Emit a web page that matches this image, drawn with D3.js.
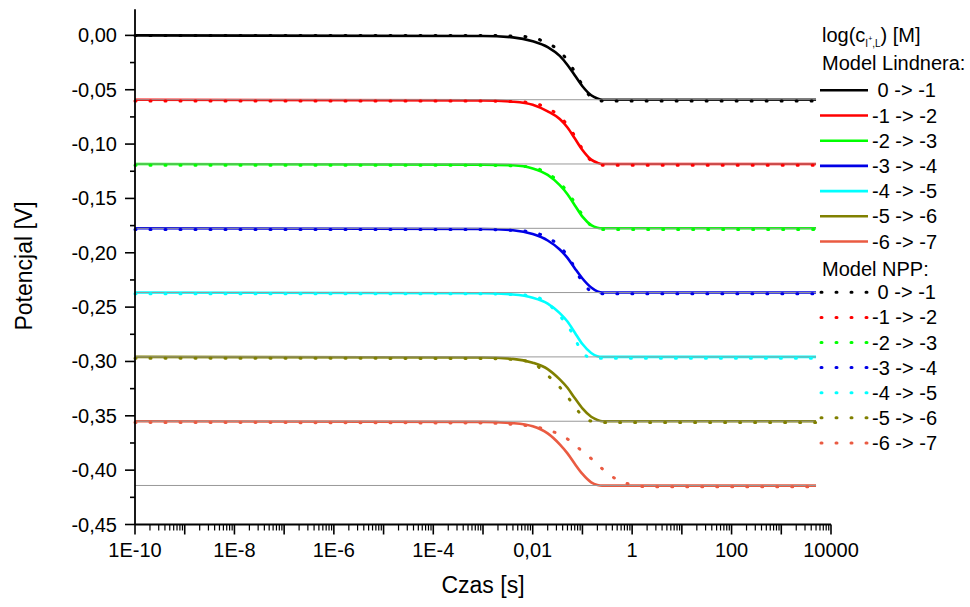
<!DOCTYPE html>
<html>
<head>
<meta charset="utf-8">
<script src="https://cdn.jsdelivr.net/npm/d3@7"></script>
<style>
  body { margin: 0; background: #fff; }
  text { font-family: Arial, "Liberation Sans", sans-serif; fill: #000; }
</style>
</head>
<body>
<div id="chart"></div>
<script>

// time grids [s]
var tLindner = [1e-10, 1e-3, 0.004, 0.01, 0.02, 0.035, 0.05, 0.07, 0.1, 0.15, 0.2, 0.25, 1, 10, 100, 1000, 5000];
var tNPP = [1e-10, 1e-3, 0.004, 0.01, 0.017, 0.035, 0.06, 0.09, 0.15, 0.25, 0.5, 1, 2, 10, 100, 1000, 5000];

// Model Lindnera - potential [V]
var lindner0 = [0, -0.0006, -0.0018, -0.0053, -0.0107, -0.0189, -0.0272, -0.0367, -0.0468, -0.0551, -0.0580, -0.0592, -0.0592, -0.0592, -0.0592, -0.0592, -0.0592];
var lindner1 = [-0.0592, -0.0598, -0.0610, -0.0639, -0.0699, -0.0770, -0.0847, -0.0947, -0.1054, -0.1143, -0.1172, -0.1183, -0.1183, -0.1183, -0.1183, -0.1183, -0.1183];
var lindner2 = [-0.1183, -0.1189, -0.1195, -0.1224, -0.1284, -0.1378, -0.1461, -0.1562, -0.1668, -0.1745, -0.1769, -0.1775, -0.1775, -0.1775, -0.1775, -0.1775, -0.1775];
var lindner3 = [-0.1775, -0.1781, -0.1793, -0.1828, -0.1887, -0.1970, -0.2047, -0.2142, -0.2237, -0.2320, -0.2355, -0.2366, -0.2366, -0.2366, -0.2366, -0.2366, -0.2366];
var lindner4 = [-0.2366, -0.2372, -0.2384, -0.2413, -0.2467, -0.2555, -0.2632, -0.2733, -0.2840, -0.2922, -0.2952, -0.2958, -0.2958, -0.2958, -0.2958, -0.2958, -0.2958];
var lindner5 = [-0.2958, -0.2964, -0.2976, -0.3011, -0.3070, -0.3165, -0.3242, -0.3337, -0.3432, -0.3509, -0.3538, -0.3550, -0.3550, -0.3550, -0.3550, -0.3550, -0.3550];
var lindner6 = [-0.3550, -0.3556, -0.3568, -0.3597, -0.3662, -0.3763, -0.3846, -0.3941, -0.4035, -0.4112, -0.4136, -0.4142, -0.4142, -0.4142, -0.4142, -0.4142, -0.4142];

// Model NPP - potential [V]
var npp0 = [0, 0, -0.0006, -0.0018, -0.0060, -0.0145, -0.0284, -0.0423, -0.0568, -0.0604, -0.0604, -0.0604, -0.0604, -0.0604, -0.0604, -0.0604, -0.0604];
var npp1 = [-0.0604, -0.0604, -0.0610, -0.0619, -0.0657, -0.0746, -0.0876, -0.1012, -0.1154, -0.1195, -0.1195, -0.1195, -0.1195, -0.1195, -0.1195, -0.1195, -0.1195];
var npp2 = [-0.1195, -0.1195, -0.1201, -0.1213, -0.1254, -0.1355, -0.1491, -0.1621, -0.1751, -0.1787, -0.1787, -0.1787, -0.1787, -0.1787, -0.1787, -0.1787, -0.1787];
var npp3 = [-0.1787, -0.1787, -0.1793, -0.1811, -0.1846, -0.1941, -0.2083, -0.2236, -0.2354, -0.2378, -0.2378, -0.2378, -0.2378, -0.2378, -0.2378, -0.2378, -0.2378];
var npp4 = [-0.2378, -0.2378, -0.2384, -0.2396, -0.2443, -0.2579, -0.2727, -0.2881, -0.2970, -0.2970, -0.2970, -0.2970, -0.2970, -0.2970, -0.2970, -0.2970, -0.2970];
var npp5 = [-0.2970, -0.2973, -0.2982, -0.3011, -0.3100, -0.3236, -0.3372, -0.3478, -0.3549, -0.3561, -0.3561, -0.3561, -0.3561, -0.3561, -0.3561, -0.3561, -0.3561];
var npp6 = [-0.3561, -0.3567, -0.3579, -0.3599, -0.3620, -0.3673, -0.3739, -0.3810, -0.3893, -0.3987, -0.4088, -0.4135, -0.4153, -0.4153, -0.4153, -0.4153, -0.4153];

// final levels (gray reference lines)
var refLevels = [-0.0592, -0.1183, -0.1775, -0.2366, -0.2958, -0.3550, -0.4141];
var refTimes = [1e-10, 5000];

var seriesLabels = [" 0 -> -1", "-1 -> -2", "-2 -> -3", "-3 -> -4", "-4 -> -5", "-5 -> -6", "-6 -> -7"];
var seriesColors = ["#000000", "#ff0000", "#00ff00", "#0000e6", "#00ffff", "#808000", "#ea5b42"];

var yTicks = [0, -0.05, -0.10, -0.15, -0.20, -0.25, -0.30, -0.35, -0.40, -0.45];
var xTicks = [1e-10, 1e-8, 1e-6, 1e-4, 1e-2, 1, 100, 10000];
var xTickLabels = ["1E-10", "1E-8", "1E-6", "1E-4", "0,01", "1", "100", "10000"];

var lindnerSeries = [lindner0, lindner1, lindner2, lindner3, lindner4, lindner5, lindner6];
var nppSeries = [npp0, npp1, npp2, npp3, npp4, npp5, npp6];

var width = 970, height = 607;

var svg = d3.select("#chart").append("svg")
    .attr("width", width)
    .attr("height", height);

var x = d3.scaleLog()
    .domain([1e-10, 1e4])
    .range([135, 831]);

var y = d3.scaleLinear()
    .domain([-0.45, 0.024])
    .range([524.5, 9.3]);

var line = d3.line()
    .x(function(d) { return x(d[0]); })
    .y(function(d) { return y(d[1]); })
    .curve(d3.curveMonotoneX);

function pairs(times, vals) {
  return times.map(function(t, i) { return [t, vals[i]]; });
}

// solid lines - Lindner
svg.append("g")
  .selectAll("path")
  .data(lindnerSeries)
  .enter().append("path")
    .attr("d", function(d) { return line(pairs(tLindner, d)); })
    .attr("fill", "none")
    .attr("stroke", function(d, i) { return seriesColors[i]; })
    .attr("stroke-width", 2.6);

// gray reference lines
svg.append("g")
  .selectAll("path")
  .data(refLevels)
  .enter().append("path")
    .attr("d", function(v) { return line(refTimes.map(function(t) { return [t, v]; })); })
    .attr("fill", "none")
    .attr("stroke", "#999")
    .attr("stroke-width", 1);

// dotted lines - NPP
svg.append("g")
  .selectAll("path")
  .data(nppSeries)
  .enter().append("path")
    .attr("d", function(d) { return line(pairs(tNPP, d)); })
    .attr("fill", "none")
    .attr("stroke", function(d, i) { return seriesColors[i]; })
    .attr("stroke-width", 3)
    .attr("stroke-linecap", "round")
    .attr("stroke-dasharray", "1,14");

// y axis
var yMinor = d3.range(0, 9).map(function(i) { return -0.025 - i * 0.05; });
var yAxis = svg.append("g").attr("transform", "translate(135,0)");
yAxis.append("line")
    .attr("y1", y(0.024)).attr("y2", 524.5)
    .attr("stroke", "#000").attr("stroke-width", 1.8);
yAxis.selectAll(".major")
  .data(yTicks)
  .enter().append("line")
    .attr("x1", -10).attr("x2", 0)
    .attr("y1", function(d) { return y(d); })
    .attr("y2", function(d) { return y(d); })
    .attr("stroke", "#000").attr("stroke-width", 1.6);
yAxis.selectAll(".minor")
  .data(yMinor)
  .enter().append("line")
    .attr("x1", -5).attr("x2", 0)
    .attr("y1", function(d) { return y(d); })
    .attr("y2", function(d) { return y(d); })
    .attr("stroke", "#000").attr("stroke-width", 1.6);
yAxis.selectAll("text")
  .data(yTicks)
  .enter().append("text")
    .attr("x", -18)
    .attr("y", function(d) { return y(d); })
    .attr("dy", "0.35em")
    .attr("text-anchor", "end")
    .style("font-size", "20px")
    .text(function(d) { return d.toFixed(2).replace(".", ","); });

// x axis
var decades = d3.range(-10, 5).map(function(e) { return Math.pow(10, e); });
var xMinor = [];
decades.slice(0, -1).forEach(function(dec) {
  for (var k = 2; k <= 9; k++) xMinor.push(dec * k);
});
var xAxis = svg.append("g").attr("transform", "translate(0,524.5)");
xAxis.append("line")
    .attr("x1", 135).attr("x2", 831)
    .attr("stroke", "#000").attr("stroke-width", 1.8);
xAxis.selectAll(".major")
  .data(decades)
  .enter().append("line")
    .attr("x1", function(d) { return x(d); })
    .attr("x2", function(d) { return x(d); })
    .attr("y1", 0).attr("y2", 10)
    .attr("stroke", "#000").attr("stroke-width", 1.6);
xAxis.selectAll(".minor")
  .data(xMinor)
  .enter().append("line")
    .attr("x1", function(d) { return x(d); })
    .attr("x2", function(d) { return x(d); })
    .attr("y1", 0).attr("y2", 6)
    .attr("stroke", "#000").attr("stroke-width", 1.2);
xAxis.selectAll("text")
  .data(xTicks)
  .enter().append("text")
    .attr("x", function(d) { return x(d); })
    .attr("y", 32)
    .attr("text-anchor", "middle")
    .style("font-size", "20px")
    .text(function(d, i) { return xTickLabels[i]; });

// axis titles
svg.append("text")
    .attr("x", 483).attr("y", 593)
    .attr("text-anchor", "middle")
    .style("font-size", "23px")
    .text("Czas [s]");
svg.append("text")
    .attr("transform", "translate(32,266) rotate(-90)")
    .attr("text-anchor", "middle")
    .style("font-size", "23px")
    .text("Potencjal [V]");

// legend
var legend = svg.append("g");
var title = legend.append("text")
    .attr("x", 822).attr("y", 42)
    .style("font-size", "20px");
title.append("tspan").text("log(c");
title.append("tspan").attr("dy", 5).style("font-size", "10px").text("I");
title.append("tspan").attr("dy", -6).style("font-size", "7px").text("+");
title.append("tspan").attr("dy", 6).style("font-size", "10px").text(",L");
title.append("tspan").attr("dy", -5).style("font-size", "20px").text(") [M]");

legend.append("text")
    .attr("x", 822).attr("y", 70)
    .style("font-size", "20px")
    .text("Model Lindnera:");
legend.append("text")
    .attr("x", 822).attr("y", 276)
    .style("font-size", "20px")
    .text("Model NPP:");

var rowsL = legend.selectAll(".rowL")
  .data(seriesLabels)
  .enter().append("g")
    .attr("transform", function(d, i) { return "translate(0," + (90.3 + i * 25.2) + ")"; });
rowsL.append("line")
    .attr("x1", 820).attr("x2", 868)
    .attr("stroke", function(d, i) { return seriesColors[i]; })
    .attr("stroke-width", 2.6);
rowsL.append("text")
    .attr("x", 872).attr("dy", "0.35em")
    .style("font-size", "20px")
    .style("white-space", "pre")
    .text(function(d) { return d; });

var rowsN = legend.selectAll(".rowN")
  .data(seriesLabels)
  .enter().append("g")
    .attr("transform", function(d, i) { return "translate(0," + (292.3 + i * 25.1) + ")"; });
rowsN.append("line")
    .attr("x1", 821).attr("x2", 868)
    .attr("stroke", function(d, i) { return seriesColors[i]; })
    .attr("stroke-width", 3)
    .attr("stroke-linecap", "round")
    .attr("stroke-dasharray", "1,14");
rowsN.append("text")
    .attr("x", 872).attr("dy", "0.35em")
    .style("font-size", "20px")
    .style("white-space", "pre")
    .text(function(d) { return d; });

</script>
</body>
</html>
